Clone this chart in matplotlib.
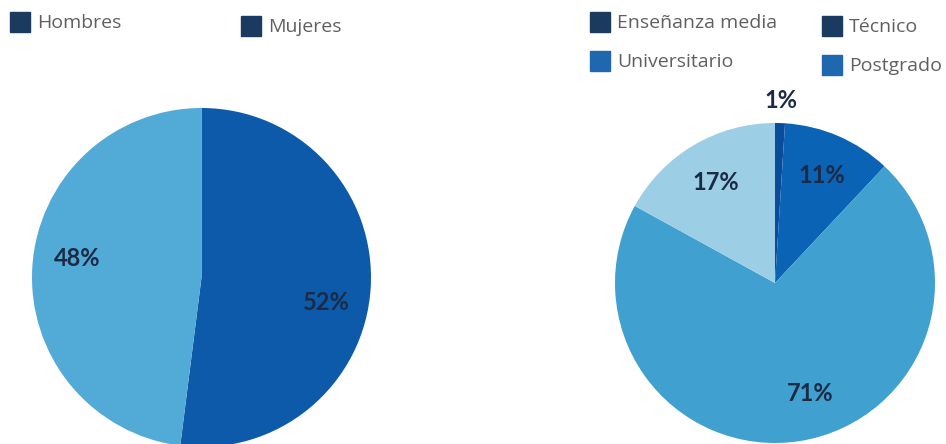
import matplotlib
matplotlib.use("Agg")
import matplotlib.pyplot as plt
from matplotlib.patches import Rectangle

# data
gender_labels = ["Hombres", "Mujeres"]
gender_values = [52, 48]
edu_labels = ["Enseñanza media", "Técnico", "Universitario", "Postgrado"]
edu_values = [1, 11, 71, 17]

gender_colors = ["#0d5aaa", "#52aad6"]
edu_colors = ["#0a4c9c", "#0a63b5", "#40a0d0", "#9ccfe6"]
legend_colors_gender = ["#1b3a60", "#1b3a60"]
legend_colors_edu = ["#1b3a60", "#1b3a60", "#1f68b0", "#1f68b0"]

W, H = 946, 444
fig = plt.figure(figsize=(W / 100, H / 100), dpi=100)
ax = fig.add_axes([0, 0, 1, 1])

label_color = "#1c2b45"
label_font = dict(family="Lato", weight="bold", size=17, color=label_color)

# y axis is flipped below, so start at -90 and go counter-clockwise in data
# space to get clockwise-from-top on screen
_, _, t1 = ax.pie(gender_values, colors=gender_colors, startangle=-90,
                  counterclock=True, center=(201.5, 277.5), radius=169.5,
                  autopct="%.0f%%", pctdistance=0.74, textprops=label_font,
                  frame=True)
_, _, t2 = ax.pie(edu_values, colors=edu_colors, startangle=-90,
                  counterclock=True, center=(775, 283), radius=160,
                  autopct="%.0f%%", pctdistance=0.73, textprops=label_font,
                  frame=True)
# the tiny slice gets its label outside
x, y = t2[0].get_position()
t2[0].set_position((775 + (x - 775) * 1.14 / 0.73, 283 + (y - 283) * 1.14 / 0.73))


def nudge(t, dx, dy):
    x, y = t.get_position()
    t.set_position((x + dx, y + dy))


nudge(t1[0], 0, 17)
nudge(t1[1], 1, -11)
nudge(t2[2], 17, -5)

ax.set_xlim(0, W)
ax.set_ylim(H, 0)
ax.set_aspect("equal")
ax.axis("off")

# legends
def legend_item(x, y, color, text):
    ax.add_patch(Rectangle((x, y), 20, 20, color=color))
    ax.text(x + 27, y + 11, text, va="center", ha="left", family="Open Sans",
            size=14, color="#606060")

legend_item(10, 12, legend_colors_gender[0], gender_labels[0])
legend_item(241, 16, legend_colors_gender[1], gender_labels[1])
legend_item(590, 12, legend_colors_edu[0], edu_labels[0])
legend_item(822, 16, legend_colors_edu[1], edu_labels[1])
legend_item(590, 51, legend_colors_edu[2], edu_labels[2])
legend_item(822, 55, legend_colors_edu[3], edu_labels[3])

fig.savefig("out.png", dpi=100)
